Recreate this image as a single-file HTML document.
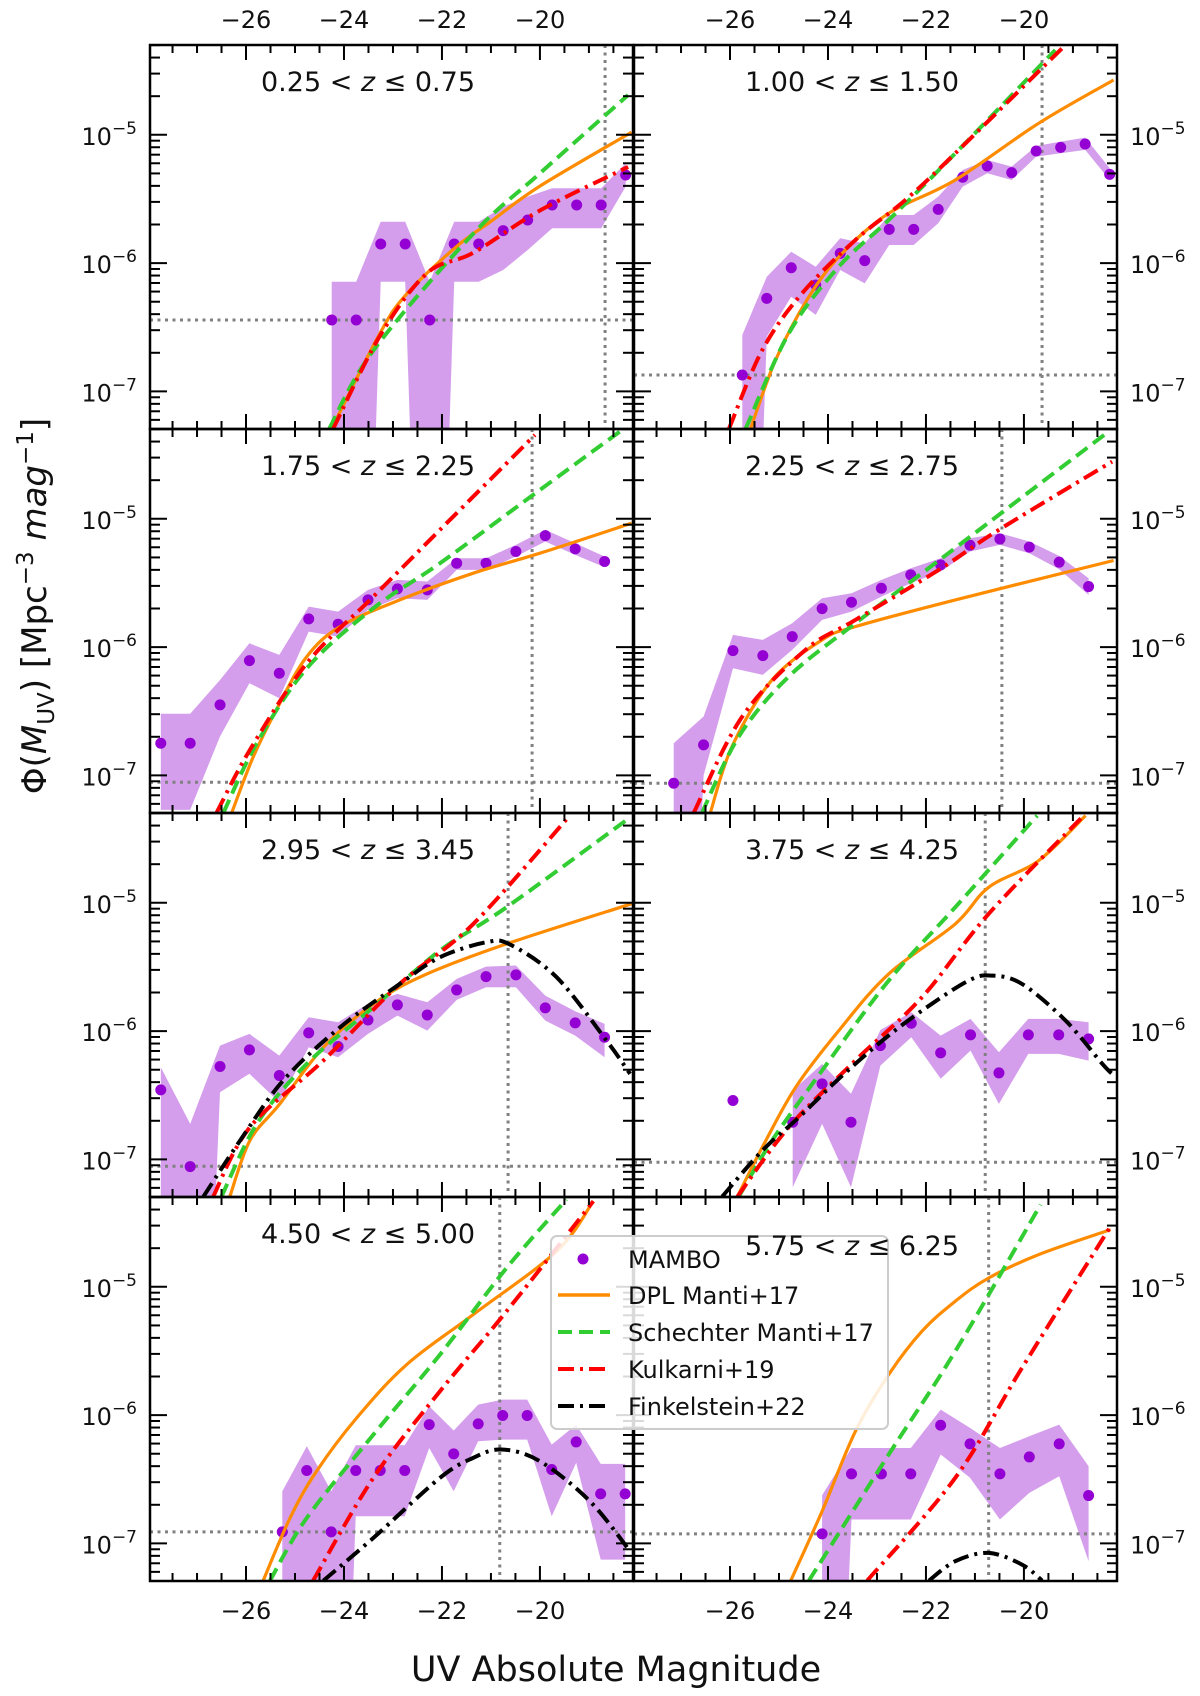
<!DOCTYPE html>
<html><head><meta charset="utf-8"><style>
html,body{margin:0;padding:0;background:#fff;width:1200px;height:1696px;overflow:hidden;}
svg{display:block;font-family:"DejaVu Sans","Liberation Sans",sans-serif;}
</style></head><body>
<svg id="fig" width="1200" height="1696" viewBox="0 0 1200 1696" xmlns="http://www.w3.org/2000/svg">
<rect x="0" y="0" width="1200" height="1696" fill="#fff"/>
<g id="panels"></g>
<text x="616" y="1681" font-size="35" text-anchor="middle" fill="#111">UV Absolute Magnitude</text>
<text transform="translate(46,606) rotate(-90)" font-size="34" text-anchor="middle" fill="#111">Φ(<tspan font-style="italic">M</tspan><tspan font-size="23" dy="8">UV</tspan><tspan dy="-8">) [Mpc</tspan><tspan font-size="23" dy="-13">−3</tspan><tspan dy="13" font-style="italic"> mag</tspan><tspan font-size="23" dy="-13">−1</tspan><tspan dy="13">]</tspan></text>
<g id="legend">
<rect x="551" y="1236" width="337" height="193" rx="6" fill="#fff" fill-opacity="0.85" stroke="#cccccc" stroke-width="2"/>
<circle cx="583" cy="1259" r="5.5" fill="#9400d3"/>
<text x="628" y="1268" font-size="24" fill="#111">MAMBO</text>
<line x1="558" y1="1295" x2="610" y2="1295" stroke="#ff8c00" stroke-width="3.5"/>
<text x="628" y="1304" font-size="24" fill="#111">DPL Manti+17</text>
<line x1="558" y1="1332" x2="610" y2="1332" stroke="#32cd32" stroke-width="4" stroke-dasharray="14 7"/>
<text x="628" y="1341" font-size="24" fill="#111">Schechter Manti+17</text>
<line x1="558" y1="1369" x2="610" y2="1369" stroke="#ff0000" stroke-width="4" stroke-dasharray="16 6 3 6"/>
<text x="628" y="1378" font-size="24" fill="#111">Kulkarni+19</text>
<line x1="558" y1="1406" x2="610" y2="1406" stroke="#000" stroke-width="4" stroke-dasharray="16 6 3 6"/>
<text x="628" y="1415" font-size="24" fill="#111">Finkelstein+22</text>
</g>
</svg>
<script>
// ---- data (magnitudes, log10 Phi) ----
const titles = ["0.25 < z ≤ 0.75","1.00 < z ≤ 1.50","1.75 < z ≤ 2.25","2.25 < z ≤ 2.75","2.95 < z ≤ 3.45","3.75 < z ≤ 4.25","4.50 < z ≤ 5.00","5.75 < z ≤ 6.25"];
const xTicks = [-26,-24,-22,-20];
const xTickLabels = ["−26","−24","−22","−20"];
const yTicks = [-5,-6,-7];
const yTickLabels = ["−5","−6","−7"];

const p1Mag = [-24.25,-23.75,-23.25,-22.75,-22.25,-21.75,-21.25,-20.75,-20.25,-19.75,-19.25,-18.75,-18.25];
const p1Phi = [-6.443,-6.443,-5.851,-5.851,-6.443,-5.851,-5.851,-5.747,-5.664,-5.547,-5.547,-5.547,-5.313];
const p1Lo = [null,null,-6.145,-6.145,null,-6.145,-6.145,-6.054,-5.898,-5.729,-5.729,-5.729,-5.404];
const p1Hi = [-6.145,-6.145,-5.677,-5.677,-6.145,-5.677,-5.677,-5.560,-5.482,-5.417,-5.417,-5.417,-5.222];
const p1Dpl = [[-24.25,-7.29],[-23.27,-6.55],[-22.72,-6.24],[-21.70,-5.87],[-21.02,-5.68],[-20.00,-5.40],[-18.13,-4.98]];
const p1Sch = [[-24.30,-7.29],[-23.40,-6.68],[-21.36,-5.77],[-20.00,-5.30],[-18.20,-4.69]];
const p1Kul = [[-24.22,-7.29],[-23.27,-6.57],[-22.31,-6.08],[-21.36,-5.92],[-20.00,-5.59],[-18.20,-5.25]];
const p1Fin = [];
const p1Ref = [-18.67,-6.443];

const p2Mag = [-25.75,-25.25,-24.75,-24.25,-23.75,-23.25,-22.75,-22.25,-21.75,-21.25,-20.75,-20.25,-19.75,-19.25,-18.75,-18.25];
const p2Phi = [-6.872,-6.275,-6.036,-6.171,-5.924,-5.981,-5.737,-5.737,-5.581,-5.331,-5.243,-5.295,-5.126,-5.098,-5.072,-5.308];
const p2Lo = [null,-6.573,-6.262,-6.404,-6.054,-6.158,-5.859,-5.859,-5.690,-5.404,-5.300,-5.352,-5.170,-5.144,-5.118,-5.352];
const p2Hi = [-6.560,-6.106,-5.911,-6.028,-5.807,-5.846,-5.625,-5.625,-5.482,-5.274,-5.196,-5.248,-5.087,-5.053,-5.022,-5.261];
const p2Dpl = [[-25.58,-7.29],[-25.07,-6.755],[-24.39,-6.262],[-23.71,-5.924],[-22.76,-5.612],[-21.40,-5.352],[-19.70,-4.91],[-18.17,-4.573]];
const p2Sch = [[-25.68,-7.29],[-24.80,-6.547],[-23.78,-6.028],[-22.76,-5.664],[-21.40,-5.144],[-19.36,-4.339]];
const p2Kul = [[-26.02,-7.29],[-25.34,-6.677],[-24.53,-6.236],[-23.44,-5.820],[-22.42,-5.508],[-21.40,-5.144],[-19.22,-4.326]];
const p2Fin = [];
const p2Ref = [-19.63,-6.872];

const p3Mag = [-27.74,-27.14,-26.53,-25.93,-25.32,-24.72,-24.12,-23.51,-22.91,-22.30,-21.70,-21.10,-20.49,-19.89,-19.28,-18.68];
const p3Phi = [-6.749,-6.749,-6.450,-6.105,-6.204,-5.780,-5.822,-5.632,-5.546,-5.554,-5.346,-5.346,-5.255,-5.131,-5.234,-5.333];
const p3Lo = [-7.269,-7.269,-6.697,-6.281,-6.398,-5.879,-5.918,-5.710,-5.619,-5.632,-5.398,-5.398,-5.294,-5.177,-5.281,-5.377];
const p3Hi = [-6.520,-6.520,-6.256,-5.970,-6.061,-5.684,-5.723,-5.554,-5.476,-5.489,-5.307,-5.307,-5.203,-5.086,-5.190,-5.294];
const p3Dpl = [[-26.29,-7.29],[-25.85,-6.853],[-25.31,-6.437],[-24.76,-6.074],[-24.08,-5.840],[-22.86,-5.632],[-21.36,-5.424],[-20.00,-5.268],[-18.13,-5.034]];
const p3Sch = [[-26.46,-7.29],[-25.78,-6.749],[-24.76,-6.165],[-23.40,-5.697],[-22.04,-5.346],[-20.14,-4.814],[-18.37,-4.320]];
const p3Kul = [[-26.60,-7.29],[-25.92,-6.801],[-24.76,-6.126],[-23.40,-5.606],[-22.04,-5.086],[-20.10,-4.346]];
const p3Fin = [];
const p3Ref = [-20.16,-7.053];

const p4Mag = [-27.15,-26.54,-25.94,-25.33,-24.73,-24.12,-23.52,-22.91,-22.31,-21.70,-21.10,-20.49,-19.89,-19.28,-18.68];
const p4Phi = [-7.061,-6.762,-6.027,-6.066,-5.918,-5.700,-5.650,-5.541,-5.437,-5.359,-5.206,-5.157,-5.221,-5.338,-5.528];
const p4Lo = [null,-7.0,-6.165,-6.217,-6.022,-5.788,-5.723,-5.606,-5.502,-5.411,-5.255,-5.203,-5.268,-5.393,-5.593];
const p4Hi = [-6.749,-6.541,-5.905,-5.944,-5.814,-5.619,-5.580,-5.476,-5.385,-5.307,-5.151,-5.112,-5.177,-5.289,-5.463];
const p4Dpl = [[-26.40,-7.29],[-25.96,-6.775],[-25.14,-6.255],[-24.12,-5.944],[-23.44,-5.840],[-21.40,-5.632],[-18.17,-5.325]];
const p4Sch = [[-26.57,-7.29],[-25.82,-6.697],[-24.80,-6.229],[-23.44,-5.814],[-22.08,-5.424],[-20.38,-4.931],[-18.27,-4.320]];
const p4Kul = [[-26.74,-7.29],[-25.75,-6.541],[-24.46,-6.022],[-23.44,-5.788],[-21.74,-5.398],[-20.51,-5.086],[-18.20,-4.554]];
const p4Fin = [];
const p4Ref = [-20.45,-7.061];

const p5Mag = [-27.74,-27.14,-26.53,-25.93,-25.32,-24.72,-24.12,-23.51,-22.91,-22.30,-21.70,-21.10,-20.49,-19.89,-19.28,-18.68];
const p5Phi = [-6.458,-7.056,-6.276,-6.146,-6.346,-6.014,-6.120,-5.913,-5.796,-5.874,-5.679,-5.575,-5.562,-5.819,-5.936,-6.048];
const p5Lo = [null,null,-6.476,-6.333,-6.554,-6.126,-6.204,-6.022,-5.879,-5.996,-5.757,-5.658,-5.658,-5.918,-6.035,-6.204];
const p5Hi = [-6.281,-6.723,-6.113,-6.022,-6.191,-5.892,-5.931,-5.788,-5.710,-5.775,-5.593,-5.497,-5.489,-5.723,-5.845,-5.944];
const p5Dpl = [[-26.33,-7.29],[-25.92,-6.853],[-25.31,-6.567],[-24.42,-6.126],[-23.40,-5.788],[-22.38,-5.567],[-20.68,-5.320],[-18.13,-5.008]];
const p5Sch = [[-26.50,-7.29],[-25.78,-6.723],[-24.76,-6.255],[-23.40,-5.814],[-22.04,-5.372],[-20.68,-5.034],[-18.20,-4.346]];
const p5Kul = [[-26.67,-7.29],[-25.92,-6.749],[-24.42,-6.229],[-22.86,-5.632],[-21.36,-5.164],[-19.39,-4.320]];
const p5Fin = [[-26.87,-7.29],[-26.12,-6.853],[-25.24,-6.385],[-24.08,-5.970],[-22.86,-5.632],[-22.04,-5.424],[-21.09,-5.307],[-20.61,-5.325],[-19.66,-5.580],[-18.64,-6.074],[-18.16,-6.333]];
const p5Ref = [-20.65,-7.053];

const p6Mag = [-25.94,-24.72,-24.12,-23.53,-22.93,-22.30,-21.70,-21.09,-20.51,-19.91,-19.29,-18.68];
const p6Phi = [-6.541,-6.710,-6.411,-6.710,-6.113,-5.939,-6.170,-6.029,-6.326,-6.029,-6.029,-6.061];
const p6Lo = [null,-7.217,-6.723,-7.217,-6.269,-6.048,-6.372,-6.152,-6.567,-6.178,-6.178,-6.230];
const p6Hi = [null,-6.463,-6.256,-6.489,-5.991,-5.853,-6.035,-5.905,-6.165,-5.905,-5.905,-5.931];
const p6Dpl = [[-25.85,-7.29],[-25.34,-6.905],[-24.66,-6.437],[-23.78,-5.996],[-22.76,-5.554],[-21.40,-5.164],[-20.72,-4.879],[-19.70,-4.671],[-18.74,-4.320]];
const p6Sch = [[-25.82,-7.29],[-25.14,-6.853],[-24.12,-6.307],[-22.76,-5.606],[-21.40,-5.034],[-19.73,-4.320]];
const p6Kul = [[-25.85,-7.29],[-24.80,-6.749],[-23.44,-6.229],[-22.08,-5.736],[-20.72,-5.086],[-18.78,-4.320]];
const p6Fin = [[-26.16,-7.29],[-25.34,-6.931],[-24.59,-6.671],[-23.78,-6.372],[-22.89,-6.074],[-22.08,-5.840],[-21.13,-5.606],[-20.65,-5.567],[-20.04,-5.632],[-19.15,-5.918],[-18.40,-6.255],[-18.20,-6.333]];
const p6Ref = [-20.79,-7.022];

const p7Mag = [-25.26,-24.76,-24.26,-23.76,-23.26,-22.76,-22.26,-21.76,-21.26,-20.76,-20.26,-19.76,-19.26,-18.76,-18.26];
const p7Phi = [-6.910,-6.432,-6.910,-6.432,-6.432,-6.432,-6.074,-6.302,-6.068,-6.003,-6.003,-6.424,-6.209,-6.614,-6.614];
const p7Lo = [null,null,null,-6.788,-6.788,-6.788,-6.256,-6.593,-6.204,-6.191,-6.191,-6.788,-6.372,-7.126,-7.126];
const p7Hi = [-6.593,-6.243,-6.593,-6.235,-6.235,-6.235,-5.931,-6.120,-5.918,-5.879,-5.879,-6.230,-6.074,-6.380,-6.380];
const p7Dpl = [[-25.65,-7.29],[-25.10,-6.801],[-24.56,-6.437],[-23.74,-6.022],[-22.72,-5.606],[-21.36,-5.216],[-19.66,-4.723],[-18.91,-4.333]];
const p7Sch = [[-25.51,-7.29],[-24.76,-6.801],[-23.40,-6.152],[-22.04,-5.528],[-20.68,-4.853],[-19.46,-4.320]];
const p7Kul = [[-24.63,-7.29],[-23.40,-6.489],[-22.04,-5.814],[-20.68,-5.190],[-18.91,-4.333]];
const p7Fin = [[-24.42,-7.29],[-23.40,-6.957],[-22.04,-6.489],[-21.36,-6.333],[-20.78,-6.268],[-20.00,-6.359],[-18.98,-6.671],[-18.16,-7.061]];
const p7Ref = [-20.82,-6.910];

const p8Mag = [-24.12,-23.52,-22.91,-22.31,-21.70,-21.10,-20.49,-19.89,-19.28,-18.68];
const p8Phi = [-6.926,-6.458,-6.458,-6.458,-6.079,-6.224,-6.458,-6.326,-6.224,-6.627];
const p8Lo = [null,-6.814,-6.814,-6.814,-6.307,-6.489,-6.814,-6.606,-6.476,-7.139];
const p8Hi = [-6.624,-6.256,-6.256,-6.256,-5.957,-6.100,-6.256,-6.165,-6.074,-6.398];
const p8Dpl = [[-24.76,-7.29],[-24.12,-6.749],[-23.44,-6.126],[-22.76,-5.684],[-22.08,-5.346],[-21.40,-5.112],[-20.72,-4.931],[-19.70,-4.749],[-18.23,-4.554]];
const p8Sch = [[-24.39,-7.29],[-22.76,-6.307],[-21.40,-5.502],[-19.66,-4.359]];
const p8Kul = [[-23.20,-7.29],[-21.40,-6.489],[-20.04,-5.632],[-18.23,-4.528]];
const p8Fin = [[-21.94,-7.29],[-21.40,-7.139],[-20.72,-7.074],[-20.04,-7.165],[-19.63,-7.29]];
const p8Ref = [-20.72,-6.926];

// ---- layout ----
const NS = "http://www.w3.org/2000/svg";
const XMIN = -27.96, XMAX = -18.10, YTOP = -4.30, YBOT = -7.293;
const PW = 483, PH = 384;
const lefts = [150, 634];
const tops = [45, 429, 813, 1197];
const panelData = [
  [p1Mag,p1Phi,p1Lo,p1Hi,p1Dpl,p1Sch,p1Kul,p1Fin,p1Ref],
  [p2Mag,p2Phi,p2Lo,p2Hi,p2Dpl,p2Sch,p2Kul,p2Fin,p2Ref],
  [p3Mag,p3Phi,p3Lo,p3Hi,p3Dpl,p3Sch,p3Kul,p3Fin,p3Ref],
  [p4Mag,p4Phi,p4Lo,p4Hi,p4Dpl,p4Sch,p4Kul,p4Fin,p4Ref],
  [p5Mag,p5Phi,p5Lo,p5Hi,p5Dpl,p5Sch,p5Kul,p5Fin,p5Ref],
  [p6Mag,p6Phi,p6Lo,p6Hi,p6Dpl,p6Sch,p6Kul,p6Fin,p6Ref],
  [p7Mag,p7Phi,p7Lo,p7Hi,p7Dpl,p7Sch,p7Kul,p7Fin,p7Ref],
  [p8Mag,p8Phi,p8Lo,p8Hi,p8Dpl,p8Sch,p8Kul,p8Fin,p8Ref]
];

function mk(tag, attrs, parent){
  const e = document.createElementNS(NS, tag);
  for (const k in attrs) e.setAttribute(k, attrs[k]);
  parent.appendChild(e);
  return e;
}
function smoothPath(P){
  if (P.length < 3) return "M" + P.map(p => p[0].toFixed(1) + "," + p[1].toFixed(1)).join(" L");
  let d = "M" + P[0][0].toFixed(1) + "," + P[0][1].toFixed(1);
  for (let i = 0; i < P.length - 1; i++) {
    const p0 = P[Math.max(i - 1, 0)], p1 = P[i], p2 = P[i + 1], p3 = P[Math.min(i + 2, P.length - 1)];
    const c1 = [p1[0] + (p2[0] - p0[0]) / 6, p1[1] + (p2[1] - p0[1]) / 6];
    const c2 = [p2[0] - (p3[0] - p1[0]) / 6, p2[1] - (p3[1] - p1[1]) / 6];
    d += " C" + c1[0].toFixed(1) + "," + c1[1].toFixed(1) + " " + c2[0].toFixed(1) + "," + c2[1].toFixed(1) + " " + p2[0].toFixed(1) + "," + p2[1].toFixed(1);
  }
  return d;
}
const root = document.getElementById("panels");
const defs = mk("defs", {}, root);
let lastTitle = null;

panelData.forEach((d, i) => {
  const col = i % 2, row = Math.floor(i / 2);
  const L = lefts[col], T = tops[row];
  const xs = m => L + (m - XMIN) / (XMAX - XMIN) * PW;
  const ys = v => T + (YTOP - (v === null ? -12 : v)) / (YTOP - YBOT) * PH;
  const [mag, phi, lo, hi, dpl, sch, kul, fin, ref] = d;

  const cp = mk("clipPath", {id: "clip" + i}, defs);
  mk("rect", {x: L, y: T, width: PW, height: PH}, cp);

  const g = mk("g", {}, root);
  
  
  const c = mk("g", {"clip-path": "url(#clip" + i + ")"}, g);

  let up = [], dn = [];
  for (let k = 0; k < mag.length; k++) {
    if (hi[k] === null) continue;
    up.push(xs(mag[k]).toFixed(1) + "," + ys(hi[k]).toFixed(1));
    dn.unshift(xs(mag[k]).toFixed(1) + "," + ys(lo[k]).toFixed(1));
  }
  const band = mk("polygon", {points: up.concat(dn).join(" "), fill: "#d49eec", stroke: "none"}, c);
  
  

  const vl = mk("line", {x1: xs(ref[0]), x2: xs(ref[0]), y1: T, y2: T + PH, stroke: "#808080", "stroke-width": 3, "stroke-dasharray": "3 4.5"}, c);
  
  
  const hl = mk("line", {x1: L, x2: L + PW, y1: ys(ref[1]), y2: ys(ref[1]), stroke: "#808080", "stroke-width": 3, "stroke-dasharray": "3 4.5"}, c);
  
  

  for (let k = 0; k < mag.length; k++) {
    const p = mk("circle", {cx: xs(mag[k]), cy: ys(phi[k]), r: 5.5, fill: "#9400d3"}, c);
    
    
  }

  const curve = (pts, stroke, w, dash, name) => {
    if (!pts.length) return;
    const e = mk("path", {d: smoothPath(pts.map(p => [xs(p[0]), ys(p[1])])), fill: "none", stroke: stroke, "stroke-width": w, "stroke-linejoin": "round"}, c);
    if (dash) e.setAttribute("stroke-dasharray", dash);
    
    
  };
  curve(dpl, "#ff8c00", 3.2, null, "dpl-manti17-curve");
  curve(sch, "#32cd32", 4, "14 7", "schechter-manti17-curve");
  curve(kul, "#ff0000", 4, "16 6 3 6", "kulkarni19-curve");
  curve(fin, "#000000", 4, "16 6 3 6", "finkelstein22-curve");

  const fr = mk("rect", {x: L, y: T, width: PW, height: PH, fill: "none", stroke: "#000", "stroke-width": 2.5}, g);
  
  

  for (let m = -27.5; m <= -18.2; m += 0.5) {
    const major = Math.abs(m / 2 - Math.round(m / 2)) < 1e-6;
    const len = major ? 15 : 8, x = xs(m);
    mk("line", {x1: x, x2: x, y1: T + PH, y2: T + PH - len, stroke: "#000", "stroke-width": 2}, g);
    mk("line", {x1: x, x2: x, y1: T, y2: T + len, stroke: "#000", "stroke-width": 2}, g);
  }
  for (let dec = -8; dec <= -5; dec++) {
    for (let k = 1; k <= 9; k++) {
      const v = dec + Math.log10(k);
      if (v > YTOP || v < YBOT) continue;
      const len = k === 1 ? 17 : 10, y = ys(v);
      mk("line", {x1: L, x2: L + len, y1: y, y2: y, stroke: "#000", "stroke-width": 2}, g);
      mk("line", {x1: L + PW, x2: L + PW - len, y1: y, y2: y, stroke: "#000", "stroke-width": 2}, g);
    }
  }
  if (row === 0 || row === 3) {
    xTicks.forEach((t, k) => {
      const tl = mk("text", {x: xs(t), y: row === 0 ? 28 : 1619, "font-size": 24, "text-anchor": "middle", fill: "#111"}, g);
      tl.textContent = xTickLabels[k];
      
      
    });
  }
  yTicks.forEach((t, k) => {
    const tx = col === 0 ? L - 13 : L + PW + 13;
    const tl = mk("text", {x: tx, y: ys(t) + 10, "font-size": 24, "text-anchor": col === 0 ? "end" : "start", fill: "#111"}, g);
    const a = mk("tspan", {}, tl); a.textContent = "10";
    const b = mk("tspan", {"font-size": 17, dy: -11}, tl); b.textContent = yTickLabels[k];
    
    
  });

  const parts = titles[i].split(" z ");
  const ty = (i === 7) ? T + 58 : T + 46;
  const tt = mk("text", {x: L + 218, y: ty, "font-size": 27, "text-anchor": "middle", fill: "#111"}, g);
  const s1 = mk("tspan", {}, tt); s1.textContent = parts[0] + " ";
  const s2 = mk("tspan", {"font-style": "italic"}, tt); s2.textContent = "z";
  const s3 = mk("tspan", {}, tt); s3.textContent = " " + parts[1];
  
  
  lastTitle = tt;
});
const fig = document.getElementById("fig");
fig.appendChild(document.getElementById("legend"));
fig.appendChild(lastTitle);
</script>
</body></html>
